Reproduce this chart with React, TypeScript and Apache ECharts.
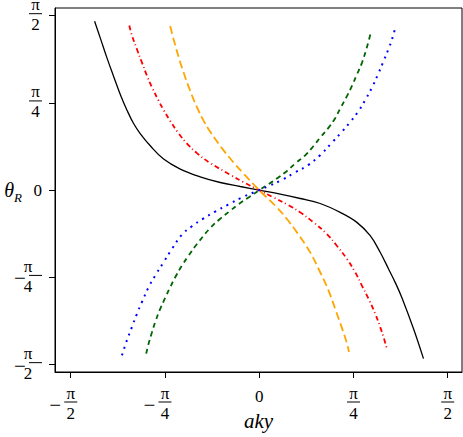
import React, { useEffect, useRef } from 'react';
import * as echarts from 'echarts';

const PI = Math.PI;
const tickValues = [-PI / 2, -PI / 4, 0, PI / 4, PI / 2];
const tickLabels = ['−π/2', '−π/4', '0', 'π/4', 'π/2'];
const xAxisTitle = 'aky';
const yAxisTitleMain = 'θ';
const yAxisTitleSub = 'R';

const blackX = [-1.372, -1.325, -1.269, -1.214, -1.158, -1.102, -1.047, -0.992, -0.908, -0.797, -0.658, -0.492, -0.325, -0.158, 0, 0.175, 0.342, 0.508, 0.675, 0.814, 0.925, 1.008, 1.078, 1.133, 1.19, 1.286, 1.369];
const blackY = [1.52, 1.371, 1.191, 1.026, 0.862, 0.72, 0.6, 0.51, 0.4, 0.28, 0.19, 0.12, 0.069, 0.033, 0, -0.036, -0.075, -0.12, -0.2, -0.29, -0.41, -0.559, -0.709, -0.83, -0.97, -1.248, -1.517];

const redX = [-1.083, -1.061, -1.019, -0.978, -0.936, -0.894, -0.839, -0.797, -0.742, -0.672, -0.602, -0.519, -0.408, -0.242, -0.131, 0, 0.119, 0.244, 0.342, 0.453, 0.564, 0.647, 0.731, 0.8, 0.856, 0.911, 0.967, 1.008, 1.036, 1.067];
const redY = [1.483, 1.395, 1.269, 1.15, 1.032, 0.927, 0.806, 0.722, 0.623, 0.511, 0.42, 0.333, 0.244, 0.139, 0.072, 0, -0.066, -0.135, -0.2, -0.29, -0.395, -0.5, -0.619, -0.739, -0.859, -0.978, -1.113, -1.233, -1.322, -1.44];

const orangeX = [-0.742, -0.714, -0.672, -0.631, -0.575, -0.519, -0.464, -0.408, -0.297, -0.214, -0.131, 0, 0.147, 0.231, 0.314, 0.425, 0.508, 0.578, 0.633, 0.689, 0.731, 0.748];
const orangeY = [1.478, 1.36, 1.2, 1.061, 0.893, 0.747, 0.626, 0.525, 0.358, 0.25, 0.15, 0, -0.155, -0.26, -0.38, -0.56, -0.739, -0.904, -1.068, -1.24, -1.38, -1.457];

const greenX = [-0.942, -0.922, -0.894, -0.867, -0.825, -0.783, -0.742, -0.7, -0.644, -0.589, -0.519, -0.408, -0.325, -0.242, -0.172, -0.089, 0, 0.078, 0.147, 0.231, 0.3, 0.383, 0.453, 0.508, 0.578, 0.633, 0.675, 0.731, 0.772, 0.814, 0.856, 0.892, 0.933];
const greenY = [-1.472, -1.382, -1.28, -1.188, -1.068, -0.968, -0.874, -0.784, -0.679, -0.59, -0.485, -0.34, -0.257, -0.186, -0.126, -0.066, 0, 0.054, 0.105, 0.173, 0.24, 0.314, 0.398, 0.473, 0.563, 0.648, 0.735, 0.846, 0.936, 1.041, 1.146, 1.266, 1.43];

const blueX = [-1.144, -1.103, -1.061, -1.019, -0.978, -0.922, -0.867, -0.797, -0.728, -0.644, -0.561, -0.47, -0.367, -0.256, -0.144, 0, 0.078, 0.189, 0.3, 0.411, 0.508, 0.606, 0.689, 0.758, 0.828, 0.883, 0.939, 0.989, 1.036, 1.081, 1.106, 1.139];
const blueY = [-1.487, -1.353, -1.233, -1.113, -1.008, -0.874, -0.769, -0.649, -0.53, -0.4, -0.325, -0.258, -0.193, -0.129, -0.066, 0, 0.036, 0.092, 0.16, 0.228, 0.315, 0.428, 0.525, 0.613, 0.712, 0.811, 0.922, 1.041, 1.161, 1.281, 1.355, 1.481];

const FONT = "'Liberation Serif', 'DejaVu Serif', serif";

function zip(xs: number[], ys: number[]) {
  return xs.map((x, i) => [x, ys[i]]);
}

function fracLabel(value: number, axis: 'x' | 'y'): string {
  let idx = 0;
  let best = Infinity;
  tickValues.forEach((t, i) => {
    const d = Math.abs(t - value);
    if (d < best) { best = d; idx = i; }
  });
  const label = tickLabels[idx];
  if (!label.includes('/')) return `{z|${label}}`;
  const neg = label.startsWith('−');
  const [num, den] = label.replace('−', '').split('/');
  const mid = neg ? '{m|−}{bar|}' + (axis === 'x' ? '{sp|}' : '') : '{bar|}';
  return `{n|${num}}\n${mid}\n{d|${den}}`;
}

function richFor(axis: 'x' | 'y') {
  return {
    n: { fontFamily: FONT, fontSize: 17, color: '#000', width: 13, align: 'center', lineHeight: 14 },
    d: { fontFamily: FONT, fontSize: 17, color: '#000', width: 13, align: 'center', lineHeight: 18 },
    bar: { width: 13, height: 1, lineHeight: 4, backgroundColor: '#000' },
    m: { fontFamily: FONT, fontSize: 21, color: '#000', width: 15, align: 'left', lineHeight: 4, padding: [6, 0, 0, 0] },
    sp: { width: 15, lineHeight: 4 },
    z: axis === 'x'
      ? { fontFamily: FONT, fontSize: 17, color: '#000', lineHeight: 14, padding: [6, 0, 0, 0] }
      : { fontFamily: FONT, fontSize: 17, color: '#000', lineHeight: 18 },
  };
}

export default function App() {
  const ref = useRef<HTMLDivElement>(null);
  useEffect(() => {
    if (!ref.current) return;
    const chart = echarts.init(ref.current, null, { renderer: 'svg' });
    const line = (data: number[][], color: string, width: number, type: any) => ({
      type: 'line',
      data,
      showSymbol: false,
      symbol: 'none',
      smooth: 0.4,
      lineStyle: { color, width, type },
    });
    chart.setOption({
      animation: false,
      backgroundColor: '#fff',
      grid: {
        left: 55, top: 8, right: 1, bottom: 65,
        containLabel: false, outerBoundsMode: 'none',
        show: true, borderColor: '#000', borderWidth: 1,
      },
      xAxis: {
        type: 'value',
        min: -1.702,
        max: 1.69,
        axisLine: { show: true, onZero: false, lineStyle: { color: '#000', width: 1 } },
        axisTick: { show: true, length: 6, customValues: tickValues, lineStyle: { color: '#000' } },
        axisLabel: {
          customValues: tickValues,
          formatter: (v: number) => fracLabel(v, 'x'),
          margin: 14,
          verticalAlign: 'top',
          rich: richFor('x'),
        },
        splitLine: { show: false },
        name: xAxisTitle,
        nameLocation: 'middle',
        nameGap: 38,
        nameMoveOverlap: false,
        nameTextStyle: { fontFamily: FONT, fontStyle: 'italic', fontSize: 21, color: '#000' },
      },
      yAxis: {
        type: 'value',
        min: -1.637,
        max: 1.64,
        axisLine: { show: true, onZero: false, lineStyle: { color: '#000', width: 1 } },
        axisTick: { show: true, length: 6, customValues: tickValues, lineStyle: { color: '#000' } },
        axisLabel: {
          customValues: tickValues,
          formatter: (v: number) => fracLabel(v, 'y'),
          margin: 13,
          rich: richFor('y'),
        },
        splitLine: { show: false },
        name: `{t|${yAxisTitleMain}}{s|${yAxisTitleSub}}`,
        nameLocation: 'middle',
        nameRotate: 0,
        nameGap: 33,
        nameMoveOverlap: false,
        nameTextStyle: {
          rich: {
            t: { fontFamily: FONT, fontStyle: 'italic', fontSize: 20, color: '#000', lineHeight: 28 },
            s: { fontFamily: FONT, fontStyle: 'italic', fontSize: 13, color: '#000', lineHeight: 12, verticalAlign: 'bottom' },
          },
        },
      },
      series: [
        line(zip(blackX, blackY), '#000000', 1.3, 'solid'),
        line(zip(redX, redY), '#ff0000', 1.8, [5, 3, 1, 3]),
        line(zip(orangeX, orangeY), '#ffa500', 1.8, [8, 4]),
        line(zip(greenX, greenY), '#006400', 1.8, [5, 4]),
        line(zip(blueX, blueY), '#0000ff', 2, [2, 5]),
      ],
    });
    return () => chart.dispose();
  }, []);
  return <div ref={ref} style={{ position: 'absolute', left: 0, top: 0, width: 463, height: 437 }} />;
}
